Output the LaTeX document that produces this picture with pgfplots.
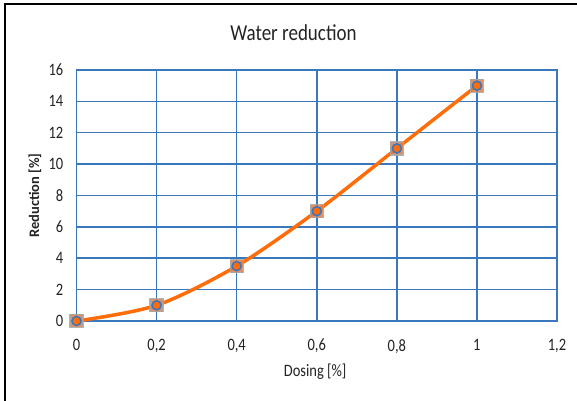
\documentclass[border=0pt]{standalone}
\usepackage{fontspec}
\setmainfont{Carlito}
\usepackage{pgfplots}
\pgfplotsset{compat=1.18}

\definecolor{gridblue}{RGB}{58,120,190}
\definecolor{lineorange}{RGB}{255,108,10}
\definecolor{sqfill}{RGB}{225,125,70}
\definecolor{txt}{RGB}{35,35,35}

\begin{document}
\begin{tikzpicture}
% page = 577 x 401 px, 1bp = 1px
\path[use as bounding box] (0,0) rectangle (577bp,401bp);
\draw[black, line width=1.4bp] (5bp,0) -- (5bp,397bp) -- (577bp,397bp);

\begin{axis}[
  scale only axis,
  anchor=south west,
  at={(76.5bp,80bp)},
  width=480.5bp, height=251bp,
  xmin=0, xmax=1.2, ymin=0, ymax=16,
  xtick={0,0.2,0.4,0.6,0.8,1,1.2},
  ytick={0,2,...,16},
  xticklabels={0,{0,2},{0,4},{0,6},{0,8},1,{1,2}},
  major tick length=0pt,
  grid=major,
  grid style={gridblue, line width=1.5bp},
  axis line style={gridblue, line width=1.5bp},
  tick label style={font=\fontsize{14.5bp}{16bp}\selectfont, text=txt, inner sep=0pt, yscale=1.2},
  /pgf/number format/assume math mode=true,
  yticklabel style={anchor=east, xshift=-13bp},
  xticklabel style={anchor=north, yshift=-15bp},
  title={Water reduction},
  title style={font=\fontsize{19bp}{21bp}\selectfont, text=txt, at={(rel axis cs:0.4516,1)}, anchor=base, yshift=24bp, inner sep=0pt, yscale=1.2},
  xlabel={Dosing [\%]},
  xlabel style={font=\fontsize{14.5bp}{16bp}\selectfont, text=txt, at={(rel axis cs:0.4966,0)}, anchor=base, yshift=-56bp, inner sep=0pt, yscale=1.2},
  ylabel={\bfseries Reduction [\%]},
  ylabel style={font=\fontsize{14.5bp}{16bp}\selectfont, text=txt, at={(axis description cs:-0.0864,0.5)}, anchor=center, inner sep=0pt},
  clip=false,
]
\addplot[lineorange, line width=3.5bp, smooth, tension=0.5, no marks]
  coordinates {(0,0) (0.2,1) (0.4,3.5) (0.6,7) (0.8,11) (1,15)};
\addplot[only marks, mark=square*, mark size=6.5bp,
  mark options={fill=sqfill, draw=gray!70, line width=1.2bp, opacity=0.85}]
  coordinates {(0,0) (0.2,1) (0.4,3.5) (0.6,7) (0.8,11) (1,15)};
\addplot[only marks, mark=*, mark size=4.5bp,
  mark options={fill=lineorange, draw=gridblue, line width=1.6bp}]
  coordinates {(0,0) (0.2,1) (0.4,3.5) (0.6,7) (0.8,11) (1,15)};
\end{axis}
\end{tikzpicture}
\end{document}
